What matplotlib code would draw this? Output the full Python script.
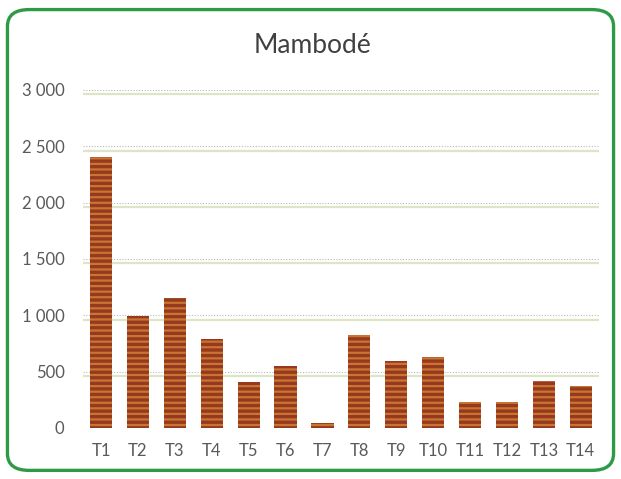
import matplotlib.pyplot as plt
import matplotlib.ticker as mticker
from matplotlib.patches import FancyBboxPatch

plt.rcParams['font.family'] = ['Lato', 'DejaVu Sans']
plt.rcParams['hatch.linewidth'] = 1.6

titre = "Mambodé"
traitements = ["T1", "T2", "T3", "T4", "T5", "T6", "T7",
               "T8", "T9", "T10", "T11", "T12", "T13", "T14"]
valeurs = [2400, 990, 1150, 790, 410, 550, 45,
           825, 595, 630, 230, 230, 415, 375]
graduations = [0, 500, 1000, 1500, 2000, 2500, 3000]

fig = plt.figure(figsize=(6.21, 4.79), dpi=100)
fig.patch.set_facecolor('white')

# cadre arrondi vert autour du graphique
cadre = FancyBboxPatch((0.012, 0.018), 0.976, 0.962,
                       boxstyle="round,pad=0,rounding_size=0.035",
                       transform=fig.transFigure, facecolor='none',
                       edgecolor='#2f9a45', linewidth=2.4, zorder=-1)
fig.patches.append(cadre)

ax = fig.add_axes([0.133, 0.1065, 0.832, 0.706])
ax.set_facecolor('none')

x = range(len(traitements))
ax.bar(x, valeurs, width=0.6, color='#96391f', edgecolor='#c97532',
       hatch='---', linewidth=0, zorder=3)

ax.set_ylim(0, 3000)
ax.set_xlim(-0.5, len(traitements) - 0.5)
ax.set_yticks(graduations)
ax.yaxis.set_major_formatter(
    mticker.FuncFormatter(lambda v, p: f"{int(v):,}".replace(",", " ")))
ax.set_xticks(list(x))
ax.set_xticklabels(traitements)

for g in graduations[1:]:
    ax.axhline(g, color='#b8b8b8', linestyle=(0, (1, 1.5)), linewidth=0.8, zorder=1)
    ax.axhline(g - 40, color='#dbe6c4', linewidth=1.6, zorder=1)
ax.axhline(0, color='#c8c8c8', linestyle=(0, (1, 1.5)), linewidth=0.8, zorder=2)

for s in ax.spines.values():
    s.set_visible(False)
ax.tick_params(axis='both', length=0, colors='#595959', labelsize=12)
ax.tick_params(axis='y', pad=13)
ax.tick_params(axis='x', pad=11)

fig.text(0.504, 0.905, titre, ha='center', va='center',
         fontsize=19, color='#404040')

fig.savefig('out.png', dpi=100)
